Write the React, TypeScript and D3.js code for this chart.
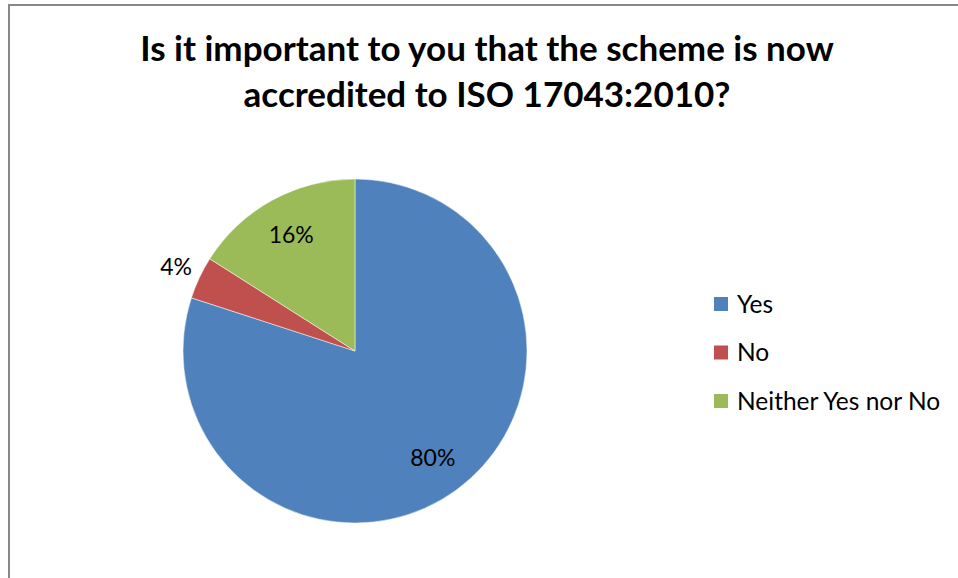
import React from 'react'
import * as d3 from 'd3'

const categories = ['Yes', 'No', 'Neither Yes nor No']
const values = [80, 4, 16]
const colors = ['#4F81BD', '#C0504D', '#9BBB59']
const titleLines = ['Is it important to you that the scheme is now', 'accredited to ISO 17043:2010?']

const width = 958
const height = 578
const font = 'Lato, "Open Sans", sans-serif'

const App = () => {
  const cx = 355
  const cy = 351
  const radius = 172

  const pie = d3.pie<number>().sort(null).value(d => d)
  const arcs = pie(values)
  const arc = d3.arc<d3.PieArcDatum<number>>().innerRadius(0).outerRadius(radius)
  const inLabel = d3.arc<d3.PieArcDatum<number>>().innerRadius(radius * 0.77).outerRadius(radius * 0.77)
  const outLabel = d3.arc<d3.PieArcDatum<number>>().innerRadius(radius * 1.15).outerRadius(radius * 1.15)
  const total = d3.sum(values)

  const legendY = d3.scalePoint<string>().domain(categories).range([304, 401])

  return (
    <svg width={width} height={height} style={{ position: 'absolute', left: 0, top: 0 }}>
      <rect x={0} y={0} width={width} height={height} fill='#fff' />
      <rect x={9} y={5} width={width + 10} height={height + 10} fill='#fff' stroke='#888' strokeWidth={2} />
      {titleLines.map((t, i) => (
        <text key={i} x={487} y={61 + i * 46} textAnchor='middle' fontFamily={font}
          fontWeight='bold' fontSize={35} fill='#000'>{t}</text>
      ))}
      <g transform={`translate(${cx},${cy})`}>
        {arcs.map((a, i) => (
          <path key={i} d={arc(a) || ''} fill={colors[i]} stroke='#fff' strokeWidth={0.5} />
        ))}
        {arcs.map((a, i) => {
          const small = a.data / total < 0.05
          const [x, y] = (small ? outLabel : inLabel).centroid(a)
          return (
            <text key={i} x={x} y={y} dy='0.35em' textAnchor='middle' fontFamily={font}
              fontSize={23} fill='#000'>{Math.round(a.data / total * 100)}%</text>
          )
        })}
      </g>
      {categories.map((c, i) => (
        <g key={c} transform={`translate(714,${legendY(c)})`}>
          <rect x={0} y={-7} width={14} height={14} fill={colors[i]} />
          <text x={23} y={0} dy='0.35em' fontFamily={font} fontSize={24.5} fill='#000'>{c}</text>
        </g>
      ))}
    </svg>
  )
}

export default App
